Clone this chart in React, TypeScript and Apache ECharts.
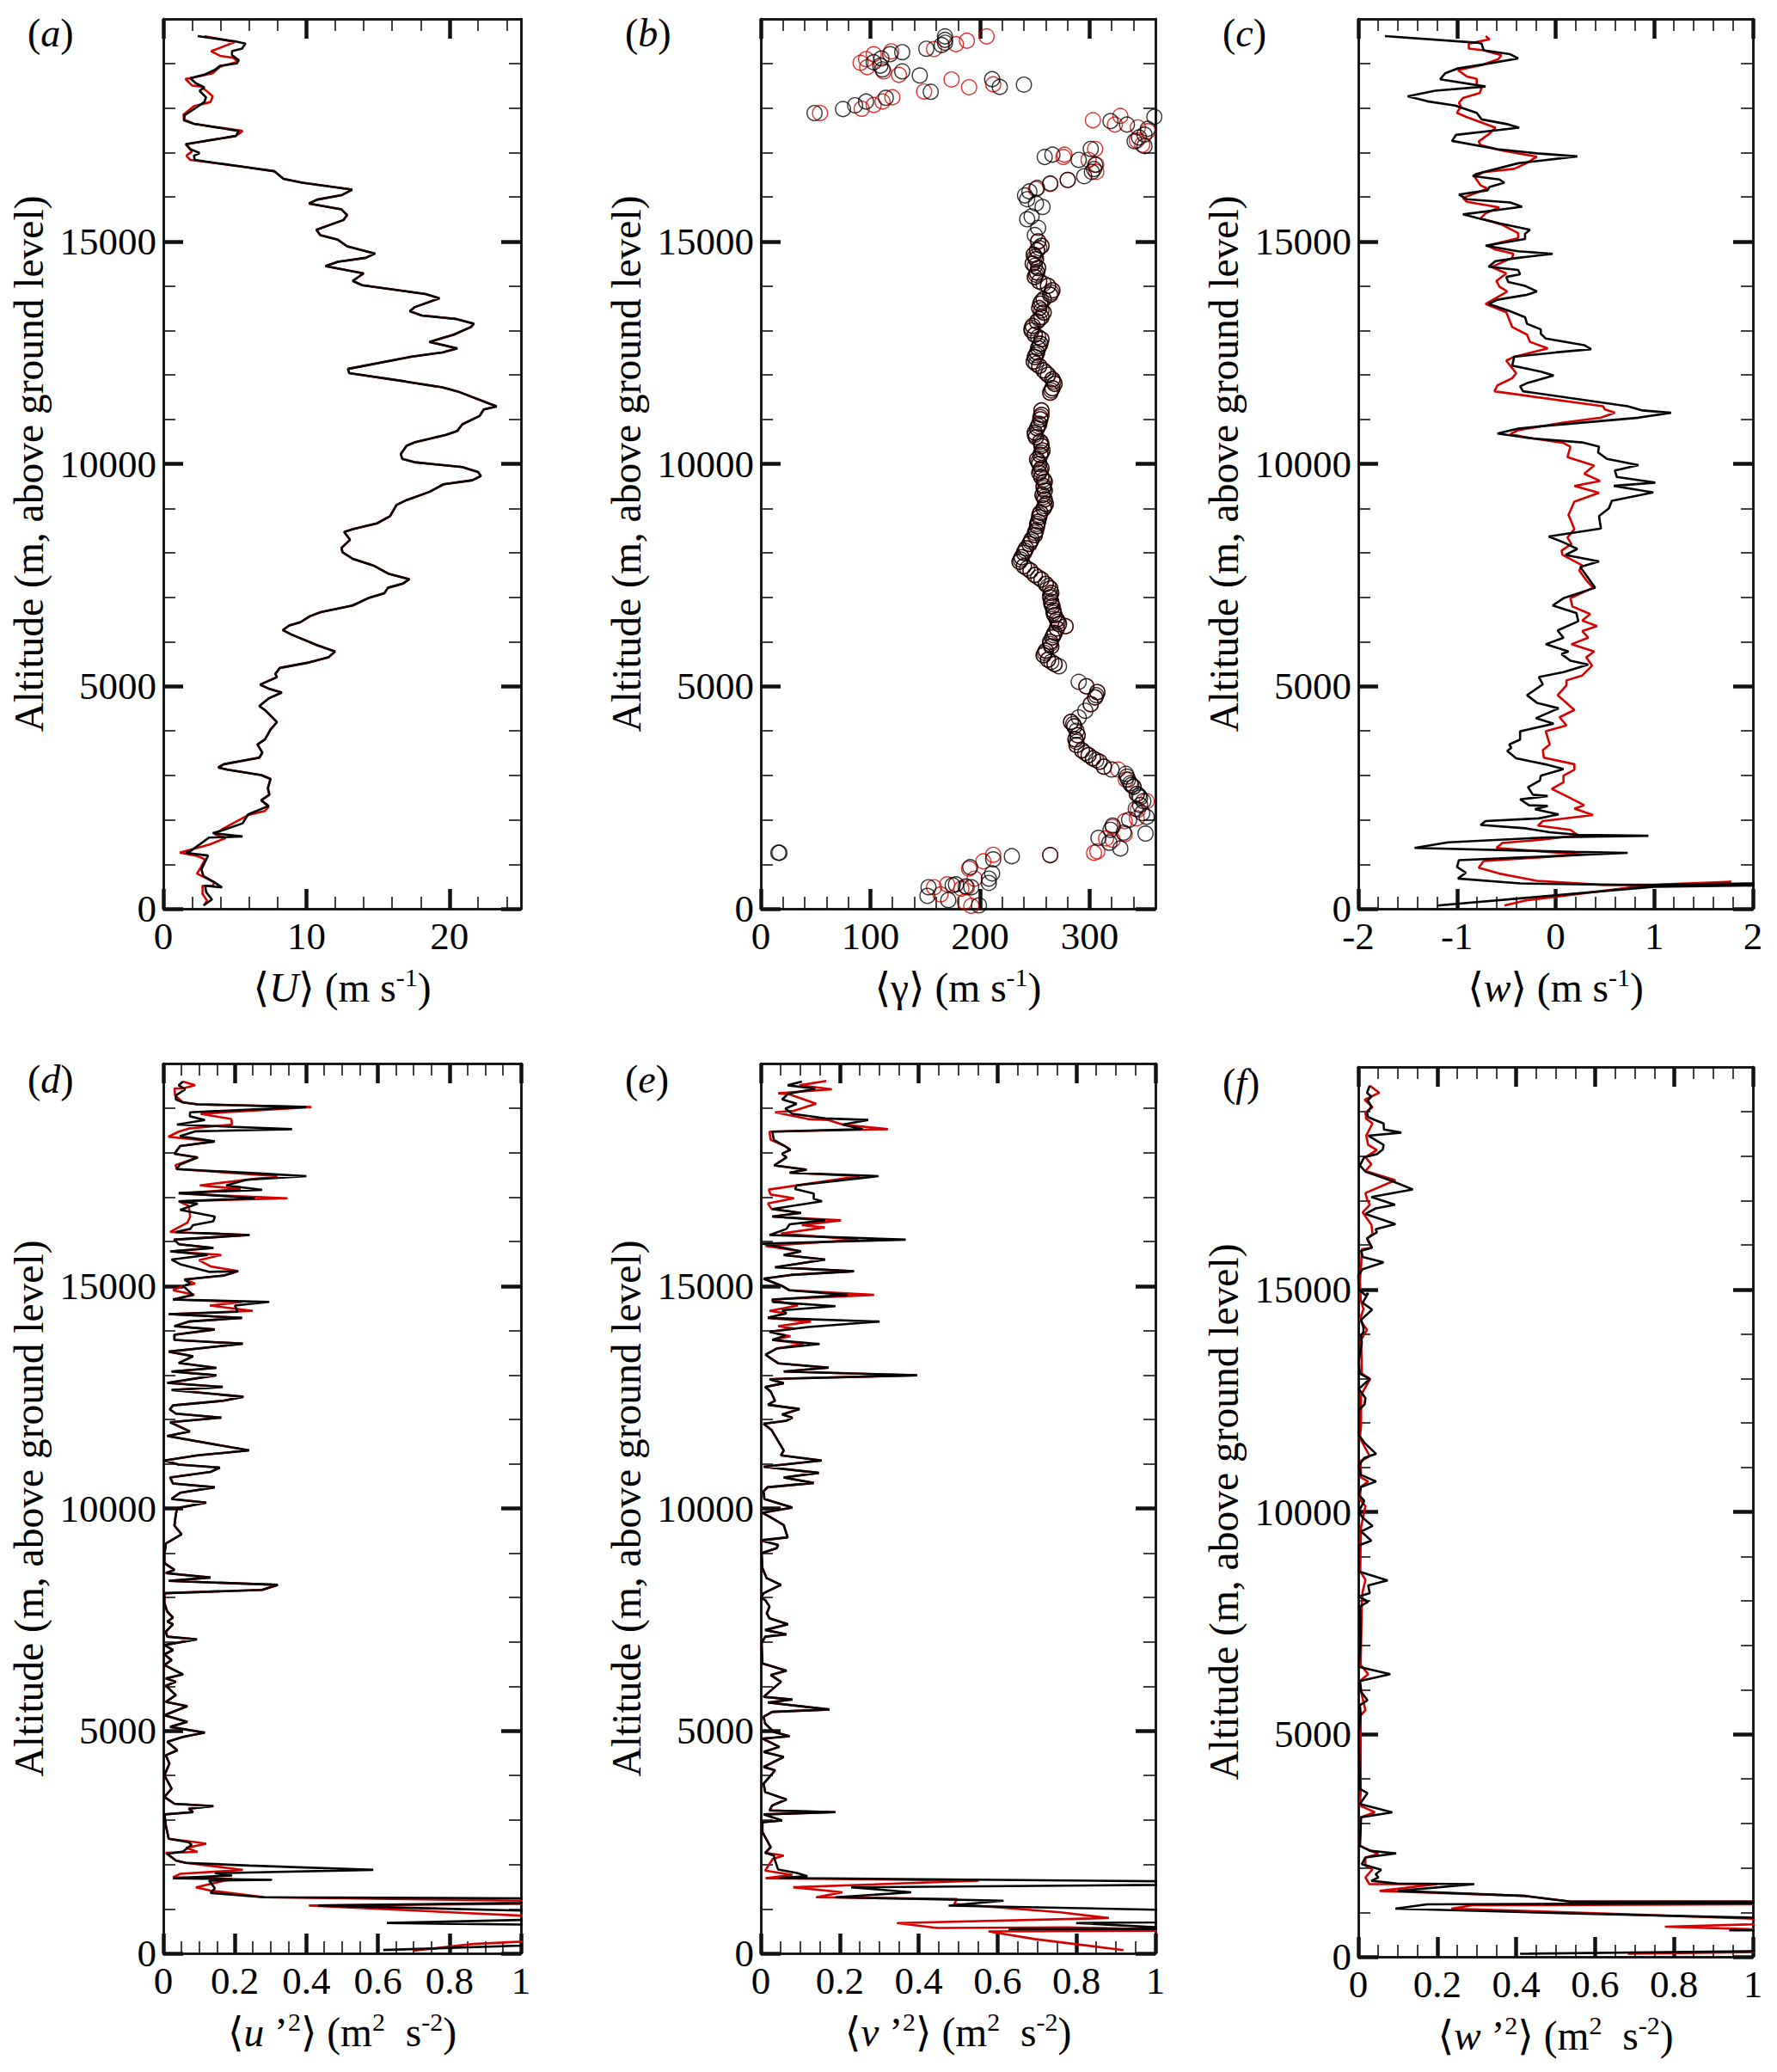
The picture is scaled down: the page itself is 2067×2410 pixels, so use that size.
import React, { useEffect, useRef } from "react";
import * as echarts from "echarts";

const FONT = "'Liberation Serif','DejaVu Serif',serif";
const RED = "#d40000";
const BLACK = "#000000";

// tick values
const altMajor = [0, 5000, 10000, 15000];
const altMinor = [1000, 2000, 3000, 4000, 6000, 7000, 8000, 9000, 11000, 12000, 13000, 14000, 16000, 17000, 18000, 19000];
const uMajor = [0, 10, 20];
const uMinor = [2, 4, 6, 8, 12, 14, 16, 18, 22, 24];
const gMajor = [0, 100, 200, 300];
const gMinor = [20, 40, 60, 80, 120, 140, 160, 180, 220, 240, 260, 280, 320, 340];
const wMajor = [-2, -1, 0, 1, 2];
const wMinor = [-1.8, -1.6, -1.4, -1.2, -0.8, -0.6, -0.4, -0.2, 0.2, 0.4, 0.6, 0.8, 1.2, 1.4, 1.6, 1.8];
const varMajor = [0, 0.2, 0.4, 0.6, 0.8, 1];
const varMinor = [0.05, 0.1, 0.15, 0.25, 0.3, 0.35, 0.45, 0.5, 0.55, 0.65, 0.7, 0.75, 0.85, 0.9, 0.95];

// (a) <U>
const aBlackTop = [[2.4,19614],[5.0,19496],[5.74,19444],[5.5,19333],[4.8,19274],[4.8,19185],[5.27,19074],[5.14,19000],[3.97,18948],[3.58,18850],[2.92,18755],[1.88,18667],[2.27,18555],[2.87,18460],[2.53,18385],[2.98,18237],[2.87,18133],[2.27,18000],[1.49,17837],[1.44,17718],[2.14,17644],[5.27,17481],[5.07,17370],[1.57,17185],[1.88,17074],[2.53,16985],[2.14,16926],[2.19,16830]];
const aRedTop = [[2.87,19614],[5.0,19480],[3.34,19274],[3.97,19170],[4.88,19126],[5.22,19037],[3.97,18926],[3.45,18778],[1.88,18667],[1.54,18652],[2.0,18504],[2.66,18481],[3.45,18259],[3.3,18133],[2.14,18037],[1.41,17852],[1.44,17740],[2.14,17644],[5.54,17481],[5.07,17370],[1.57,17185],[2.0,17022],[1.62,16926],[1.88,16830]];
const aMid = [[5.8,16667],[7.75,16578],[8.4,16407],[9.71,16318],[13.2,16163],[12.45,16037],[10.76,15940],[10.18,15852],[12.45,15718],[12.85,15593],[12.6,15481],[10.7,15259],[10.97,15141],[12.2,15037],[12.85,14889],[14.8,14726],[14.15,14630],[12.2,14541],[11.33,14444],[14.0,14281],[13.24,14111],[13.9,14015],[18.33,13815],[19.3,13719],[17.55,13519],[17.23,13430],[18.07,13333],[20.4,13259],[21.7,13148],[21.5,13074],[20.3,12904],[18.6,12741],[20.55,12593],[19.5,12504],[17.3,12407],[12.9,12133],[13.0,12037],[16.9,11852],[19.5,11719],[20.55,11630],[23.3,11289],[22.4,11222],[22.1,11074],[20.9,10889],[20.55,10741],[19.77,10652],[17.55,10481],[17.0,10407],[16.6,10222],[16.7,10111],[17.55,10037],[20.9,9926],[22.0,9815],[22.2,9726],[21.6,9630],[19.6,9541],[18.6,9370],[17.0,9185],[16.3,9074],[15.85,8825],[14.93,8662],[13.24,8530],[12.64,8470],[13.05,8293],[12.45,8108],[12.53,8013],[13.24,7865],[14.67,7717],[15.72,7533],[17.2,7407],[16.76,7311],[15.7,7215],[15.45,7090],[14.3,6979],[13.24,6816],[11.0,6668],[10.23,6572],[9.58,6440],[8.8,6366],[8.35,6262],[8.93,6166],[10.76,5923],[12.0,5782],[11.54,5650],[10.23,5539],[8.15,5413],[7.83,5280],[7.94,5206],[6.76,5037],[7.36,4948],[8.28,4860],[7.36,4726],[6.71,4556],[7.15,4453],[7.94,4195],[7.49,4025],[7.1,3803],[6.58,3693],[6.92,3508],[6.71,3397],[4.23,3249],[3.84,3176],[4.49,3124],[6.84,3006],[7.49,2917],[7.31,2710],[7.41,2563],[6.84,2437]];
const aBlackBottom = [[7.36,2311],[5.93,2120],[5.54,1920],[4.23,1772],[3.45,1699],[5.54,1625],[3.19,1600],[1.88,1292],[1.57,1255],[3.13,1196],[2.66,886],[2.8,738],[3.58,591],[4.1,480],[2.92,517],[3.0,369],[3.4,207],[2.8,74]];
const aRedBottom = [[7.36,2289],[7.1,2200],[5.93,2105],[4.23,1809],[3.58,1676],[4.36,1588],[3.19,1440],[1.15,1263],[2.4,1182],[2.92,1108],[2.61,923],[2.35,790],[3.58,591],[3.45,517],[2.74,517],[2.74,332],[3.05,185],[2.92,111]];

// (b) <gamma>
const bBlackTop = [[168,19607],[168,19529],[168,19465],[165,19413],[151,19329],[129,19252],[118,19207],[110,19110],[103,19026],[109,18949],[111,18865],[129,18820],[145,18729],[211,18645],[218,18471],[240,18523],[155,18361],[114,18226],[96,18142],[86,18058],[75,17974],[49,17884],[359,17800],[319,17703],[334,17626],[353,17529],[350,17400],[345,17336],[341,17252],[350,17142],[301,17078],[266,16949],[259,16897],[290,16832],[305,16723],[304,16626],[302,16562],[295,16465],[280,16381],[264,16303],[252,16200],[245,16123],[241,16032],[243,15948],[251,15852],[257,15774],[247,15561],[243,15497],[253,15303],[250,15142]];
const bRedTop = [[206,19607],[188,19510],[178,19432],[158,19323],[119,19271],[103,19207],[96,19097],[91,19013],[97,18916],[112,18820],[126,18742],[174,18639],[190,18465],[212,18529],[149,18368],[120,18239],[111,18142],[103,18065],[92,17981],[54,17884],[303,17723],[328,17820],[323,17626],[344,17561],[353,17477],[343,17271],[348,17174],[305,17078],[277,16949],[276,16897],[299,16832],[306,16723],[306,16562],[280,16381],[264,16290],[251,16174]];
const bBody = [[253,15000],[256,14900],[252,14800],[249,14700],[251,14600],[248,14500],[253,14400],[252,14300],[250,14200],[254,14100],[262,14000],[266,13900],[264,13800],[258,13700],[255,13600],[254,13500],[258,13400],[256,13300],[252,13200],[248,13100],[247,13000],[250,12900],[256,12800],[255,12700],[253,12600],[252,12500],[250,12400],[249,12300],[254,12200],[258,12100],[262,12000],[266,11900],[268,11800],[266,11700],[264,11600],[256,11200],[256,11100],[255,11000],[254,10900],[252,10800],[250,10700],[251,10600],[255,10500],[256,10400],[257,10300],[255,10200],[252,10100],[254,10000],[256,9900],[254,9800],[256,9700],[259,9600],[258,9500],[259,9400],[257,9300],[259,9200],[260,9100],[258,9000],[255,8900],[254,8800],[253,8700],[252,8600],[251,8500],[250,8400],[247,8300],[245,8200],[242,8100],[240,8000],[238,7900],[236,7800],[240,7700],[246,7600],[250,7500],[256,7400],[260,7300],[264,7200],[265,7100],[264,7000],[265,6900],[266,6800],[267,6700],[268,6600],[270,6500],[272,6400],[278,6350],[270,6300],[268,6200],[266,6100],[264,6000],[265,5900],[260,5800],[258,5700],[262,5600],[268,5500],[297,5000],[307,4870],[301,4600],[305,4750],[283,4200],[286,4100],[289,3900],[287,3807],[288,3678],[293,3560],[299,3452],[303,3380],[309,3303],[313,3194]];
const bBlackExtra = [[254,14850],[250,14650],[250,14450],[251,14250],[258,14050],[265,13850],[256,13650],[256,13450],[254,13250],[247,13050],[253,12850],[254,12650],[251,12450],[251,12250],[260,12050],[267,11850],[265,11650],[255,11050],[253,10850],[250,10650],[256,10450],[256,10250],[253,10050],[255,9850],[258,9650],[258,9450],[258,9250],[259,9050],[254,8850],[252,8650],[250,8450],[246,8250],[241,8050],[237,7850],[243,7650],[253,7450],[262,7250],[264,7050],[265,6850],[267,6650],[271,6450],[267,6150],[264,5950],[259,5750],[265,5550],[272,5450],[290,5100],[306,4800],[296,4450],[290,4300],[285,4150],[288,4000],[288,3750],[296,3500],[306,3340],[320,3130],[334,2970],[338,2780],[345,2540],[346,2330],[348,2150]];
const bBlackBottom = [[333,3032],[335,2903],[337,2820],[340,2742],[343,2581],[346,2500],[349,2419],[342,2245],[352,2065],[336,2000],[351,1690],[321,1871],[319,1774],[331,1710],[308,1594],[318,1484],[328,1355],[264,1206],[229,1181],[212,1110],[191,935],[211,794],[208,677],[208,581],[192,484],[178,548],[187,503],[175,529],[153,484],[152,290],[171,194],[199,77],[17,1258],[16,1258]];
const bRedBottom = [[326,3129],[333,2903],[340,2742],[343,2581],[352,2419],[344,2226],[343,2032],[332,1968],[321,1839],[332,1677],[315,1581],[321,1548],[307,1290],[304,1258],[264,1206],[212,1213],[203,1065],[190,903],[195,677],[170,548],[158,484],[164,323],[183,452],[188,484],[186,161],[192,65]];

// (c) <w>
const cBlack = [[-1.73,19614],[-0.8,19467],[-0.75,19444],[-0.73,19296],[-0.46,19207],[-0.38,19111],[-0.73,18978],[-0.99,18889],[-1.12,18778],[-1.17,18644],[-0.71,18481],[-1.22,18385],[-1.5,18259],[-1.3,18148],[-1.02,18052],[-0.8,17889],[-0.75,17741],[-0.48,17630],[-0.37,17556],[-1.01,17393],[-1.05,17259],[-0.59,17074],[-0.19,16978],[0.22,16911],[-0.38,16756],[-0.8,16518],[-0.84,16467],[-0.57,16392],[-0.52,16319],[-0.67,16222],[-0.69,16148],[-0.98,16052],[-0.9,15948],[-0.46,15874],[-0.34,15778],[-0.94,15607],[-0.78,15519],[-0.57,15407],[-0.26,15259],[-0.31,15170],[-0.31,15052],[-0.71,14904],[-0.38,14778],[-0.03,14719],[-0.38,14630],[-0.61,14556],[-0.68,14430],[-0.38,14356],[-0.36,14259],[-0.5,14200],[-0.48,14089],[-0.31,14000],[-0.19,13874],[-0.29,13800],[-0.59,13689],[-0.68,13593],[-0.46,13430],[-0.31,13296],[-0.29,13148],[-0.15,13022],[-0.15,12926],[-0.1,12815],[0.29,12667],[0.36,12578],[0,12504],[-0.42,12407],[-0.44,12207],[-0.15,12074],[-0.02,11985],[-0.29,11815],[-0.36,11741],[-0.33,11630],[0.38,11407],[0.73,11296],[0.88,11200],[1.17,11148],[0.84,11037],[-0.11,10852],[-0.38,10793],[-0.59,10681],[-0.23,10570],[0.27,10481],[0.44,10385],[0.43,10259],[0.52,10111],[0.84,9970],[0.6,9852],[0.62,9704],[1.01,9578],[0.59,9504],[0.99,9356],[0.57,9170],[0.54,9000],[0.44,8825],[0.45,8677],[0.46,8545],[-0.07,8367],[0.08,8234],[0.22,8087],[0.1,7953],[0.44,7806],[0.25,7680],[0.31,7496],[0.4,7215],[0.08,6979],[-0.03,6816],[0.21,6647],[0.23,6462],[0.02,6255],[0.08,6092],[-0.1,5945],[0.13,5782],[0.06,5723],[0.15,5576],[0.33,5487],[0.08,5317],[-0.17,5206],[-0.13,5044],[-0.29,4800],[-0.19,4630],[0.03,4505],[-0.2,4283],[-0.02,4158],[-0.36,3988],[-0.36,3803],[-0.47,3693],[-0.45,3619],[-0.49,3545],[-0.4,3382],[-0.11,3249],[0.08,3139],[-0.15,2991],[-0.16,2880],[-0.28,2732],[-0.23,2563],[-0.08,2533],[-0.36,2459],[-0.27,2326],[-0.08,2311],[-0.21,2238],[0.03,2120],[-0.17,2031],[-0.71,1972],[-0.76,1883],[-0.31,1809],[-0.06,1721],[0.23,1662],[0.94,1640],[-0.08,1603],[-1.09,1492],[-1.43,1366],[0.19,1278],[0.73,1255],[-0.98,1093],[-1.0,938],[-0.91,812],[-0.99,679],[-0.36,569],[0.84,532],[2.0,569],[2.3,530],[1.0,495],[-1.2,74]];
const cRed = [[-0.71,19614],[-0.67,19541],[-0.8,19481],[-0.88,19444],[-0.88,19333],[-0.73,19296],[-0.55,19185],[-0.58,19096],[-0.75,18963],[-0.99,18852],[-0.9,18704],[-0.8,18652],[-0.8,18533],[-0.75,18444],[-0.77,18333],[-0.94,18222],[-0.98,18111],[-0.96,18037],[-1.0,17889],[-0.9,17793],[-0.61,17556],[-0.67,17422],[-0.78,17244],[-0.76,17163],[-0.57,17052],[-0.19,16904],[-0.31,16741],[-0.42,16630],[-0.73,16556],[-0.82,16444],[-0.76,16259],[-0.69,16185],[-0.94,15978],[-0.9,15889],[-0.57,15763],[-0.71,15630],[-0.76,15519],[-0.54,15370],[-0.38,15185],[-0.38,15074],[-0.69,14904],[-0.61,14815],[-0.43,14726],[-0.44,14630],[-0.65,14422],[-0.5,14281],[-0.6,14111],[-0.57,13985],[-0.49,13874],[-0.71,13593],[-0.5,13407],[-0.44,13074],[-0.29,12904],[-0.26,12741],[-0.08,12593],[-0.42,12407],[-0.5,12319],[-0.4,12037],[-0.44,11926],[-0.59,11763],[-0.62,11630],[0.48,11296],[0.5,11222],[0.6,11148],[0.46,11037],[0.08,10926],[-0.38,10756],[-0.46,10667],[-0.27,10585],[0.08,10467],[0.15,10385],[0.12,10148],[0.39,9963],[0.29,9778],[0.45,9615],[0.19,9504],[0.44,9348],[0.19,9148],[0.13,8852],[0.15,8751],[0.19,8530],[0.12,8345],[0.16,8197],[0.06,8050],[0.07,7953],[0.27,7717],[0.24,7606],[0.31,7385],[0.38,7215],[0.15,6979],[0.17,6794],[0.35,6624],[0.27,6476],[0.42,6351],[0.27,6240],[0.33,6092],[0.16,5945],[0.39,5782],[0.31,5650],[0.37,5465],[0.27,5243],[0.11,5133],[0.11,5022],[0.02,4800],[0.19,4468],[0.04,4305],[0.11,4121],[-0.1,3988],[-0.06,3693],[-0.13,3567],[-0.12,3397],[0.19,3249],[0.19,3124],[0.08,2991],[0.08,2843],[-0.04,2695],[0.13,2511],[0.29,2326],[0.19,2252],[0.38,2105],[-0.13,1972],[-0.18,1868],[0.15,1772],[0.23,1647],[-0.15,1551],[-0.54,1477],[-0.6,1366],[0.27,1218],[-0.73,1071],[-0.78,923],[-0.57,790],[-0.19,628],[0.46,539],[0.99,539],[1.78,606],[0.77,480],[-0.31,185],[-0.52,74]];

// (d) <u'^2>
const dBlackTop = [[.055,19593],[.043,19510],[.061,19421],[.035,19283],[.035,19193],[.055,19124],[.096,19083],[.40,19021],[.075,18904],[.074,18814],[.116,18731],[.038,18628],[.36,18524],[.091,18476],[.046,18366],[.144,18249],[.047,18145],[.031,17972],[.096,17890],[.047,17731],[.037,17628],[.28,17524],[.40,17469],[.232,17386],[.176,17262],[.276,17159],[.043,17090],[.256,16972],[.043,16903],[.096,16848],[.047,16710],[.144,16559],[.14,16455],[.083,16366],[.075,16283],[.035,16214],[.24,16145],[.03,16041],[.044,15938],[.14,15855],[.019,15779],[.124,15697],[.023,15593],[.047,15490],[.128,15317],[.208,15331],[.168,15234],[.059,15145],[.075,15055],[.055,15000],[.083,14800],[.027,14697],[.296,14641],[.2,14559],[.208,14421],[.015,14366]];
const dRedTop = [[.055,19593],[.089,19510],[.055,19441],[.031,19441],[.033,19283],[.055,19124],[.096,19083],[.414,19021],[.104,18869],[.19,18752],[.192,18628],[.071,18538],[.043,18469],[.014,18352],[.144,18249],[.047,18145],[.031,17972],[.096,17890],[.034,17717],[.037,17628],[.319,17469],[.102,17262],[.216,17179],[.043,17076],[.347,16972],[.043,16903],[.071,16800],[.075,16559],[.067,16421],[.019,16214],[.242,16145],[.03,16041],[.044,15938],[.14,15855],[.023,15779],[.162,15697],[.1,15579],[.132,15441],[.21,15331],[.168,15234],[.059,15145],[.089,15055],[.055,15000],[.027,14903],[.087,14800],[.027,14697],[.22,14641],[.13,14559],[.25,14441],[.015,14366]];
const dMid = [[.22,14283],[.071,14200],[.031,14097],[.144,14021],[.031,13903],[.031,13786],[.222,13703],[.015,13524],[.083,13421],[.043,13269],[.148,13159],[.023,13076],[.148,12993],[.011,12821],[.166,12731],[.023,12662],[.224,12510],[.168,12421],[.027,12317],[.018,12228],[.035,12131],[.162,12041],[.019,11938],[.074,11731],[.011,11627],[.24,11303],[.096,11193],[.003,11076],[.043,10986],[.158,10917],[.132,10821],[.019,10697],[.027,10559],[.144,10476],[.047,10352],[.023,10214],[.12,10131],[.039,10007],[.035,9869],[.031,9614],[.051,9420],[.007,9211],[.003,8957],[.003,8770],[.031,8620],[.007,8545],[.132,8447],[.015,8372],[.32,8282],[.276,8169],[.003,8094],[.003,7869],[.011,7681],[.027,7546],[.011,7456],[.027,7396],[.007,7230],[.011,7118],[.094,7058],[.003,6930],[.027,6817],[.003,6720],[.023,6592],[.003,6479],[.055,6269],[.007,6179],[.035,6104],[.007,6014],[.035,5804],[.007,5653],[.067,5556],[.003,5353],[.067,5203],[.019,5090],[.116,4962],[.055,4865],[.011,4752],[.039,4564],[.007,4452],[.017,4264],[.003,4001],[.023,3701],[.003,3513],[.031,3363],[.14,3310],[.071,3250],[.083,3175],[.003,3123],[.007,2875],[.015,2574]];
const dBlackBottom = [[.071,2499],[.079,2439],[.055,2289],[.011,2236],[.035,2086],[.063,2034],[.24,1974],[.587,1876],[.144,1801],[.192,1748],[.027,1688],[.304,1651],[.128,1636],[.144,1463],[.132,1358],[.28,1260],[1.0,1238],[1.2,1180],[1.0,1134],[.433,1074],[1.0,961],[1.3,800],[1.0,751],[.625,683],[1.0,646],[1.3,400],[1.0,173],[.615,75]];
const dRedBottom = [[.092,2499],[.12,2462],[.063,2370],[.096,2281],[.007,2259],[.035,2086],[.063,2034],[.222,1876],[.047,1786],[.027,1711],[.192,1673],[.091,1485],[.132,1410],[.284,1260],[1.0,1185],[1.3,1130],[.407,1074],[1.0,848],[1.3,600],[1.0,263],[.866,210],[.697,60]];

// (e) <v'^2>
const eBlackTop = [[.104,19593],[.068,19510],[.138,19435],[.069,19317],[.054,19193],[.091,19097],[.062,18986],[.08,18869],[.12,18821],[.163,18766],[.272,18731],[.207,18628],[.258,18524],[.029,18469],[.033,18283],[.058,18159],[.075,18062],[.054,17972],[.065,17890],[.034,17710],[.116,17614],[.073,17545],[.298,17469],[.091,17262],[.087,17179],[.134,17076],[.134,16959],[.155,16903],[.029,16731],[.102,16641],[.029,16559],[.163,16476],[.073,16386],[.065,16283],[.022,16145],[.367,16041],[.004,15952],[.033,15904],[.102,15779],[.058,15697],[.163,15593],[.036,15421],[.236,15331],[.076,15248],[.007,15165],[.054,15000],[.073,14903],[.221,14800],[.029,14697],[.031,14641],[.189,14545],[.054,14455],[.065,14386],[.018,14283],[.301,14200],[.12,14076],[.022,13972],[.062,13883],[.029,13786],[.149,13697]];
const eRedTop = [[.166,19607],[.098,19510],[.18,19421],[.044,19331],[.073,19304],[.14,19097],[.084,18938],[.036,18903],[.12,18752],[.171,18731],[.207,18628],[.322,18524],[.022,18469],[.025,18283],[.058,18159],[.075,18062],[.054,17972],[.065,17890],[.034,17710],[.116,17614],[.073,17545],[.25,17469],[.02,17166],[.025,17055],[.084,16972],[.018,16855],[.027,16731],[.102,16641],[.029,16559],[.203,16476],[.104,16366],[.162,16317],[.051,16179],[.247,16041],[.012,15900],[.102,15779],[.058,15697],[.163,15593],[.036,15421],[.236,15331],[.076,15248],[.007,15165],[.054,15000],[.073,14903],[.287,14800],[.029,14697],[.04,14662],[.094,14559],[.022,14441],[.065,14386],[.018,14283],[.127,14200],[.044,14097],[.084,14041],[.022,13972],[.075,13869],[.029,13786],[.109,13697]];
const eMid = [[.04,13593],[.012,13455],[.044,13262],[.172,13165],[.058,13076],[.396,12993],[.062,12917],[.022,12903],[.058,12814],[.011,12731],[.025,12628],[.036,12421],[.018,12331],[.098,12234],[.054,12110],[.08,12041],[.065,11972],[.007,11903],[.027,11765],[.058,11303],[.051,11193],[.154,11076],[.007,10938],[.147,10800],[.058,10697],[.134,10572],[.017,10476],[.007,10386],[.009,10214],[.08,10021],[.004,9903],[.025,9800],[.058,9627],[.068,9351],[0,9282],[.044,9179],[.04,9108],[.002,8995],[.004,8657],[.015,8432],[.051,8282],[.007,8094],[0,7981],[.011,7944],[.022,7794],[.015,7644],[.022,7531],[.069,7396],[.011,7268],[.065,7170],[.011,7118],[.002,6968],[.004,6517],[.065,6352],[.025,6254],[.051,6104],[.007,5766],[.08,5706],[.018,5638],[.174,5481],[.029,5428],[.007,5315],[.011,5165],[.033,4977],[.073,4880],[.004,4827],[.047,4640],[.007,4527],[.058,4414],[.007,4189],[.036,4114],[.018,3926],[.007,3813],[.011,3626],[.065,3460],[.029,3325],[.022,3213],[.189,3175],[.007,3123],[.054,2987],[.004,2950],[.004,2725],[.018,2499],[.025,2386],[.011,2259]];
const eBlackBottom = [[.033,2199],[.036,2086],[.044,1883],[.091,1808],[.118,1733],[.047,1696],[1.0,1620],[1.3,1560],[.229,1485],[.381,1373],[.189,1260],[.615,1185],[.476,1072],[1.0,982],[1.3,850],[1.0,697],[.799,682],[1.0,587],[1.3,570],[1.0,550],[.628,547],[1.0,545],[1.3,540]];
const eRedBottom = [[.058,2199],[.03,2120],[.011,1861],[.08,1763],[.012,1688],[.552,1636],[.082,1485],[.207,1373],[.14,1260],[.497,1222],[.49,1110],[.759,922],[.882,794],[.345,682],[.447,569],[.78,584],[1.0,540],[1.2,530],[1.0,510],[.577,494],[.694,321],[.919,74]];

// (f) <w'^2>
const fBlack = [[.029,19580],[.022,19421],[.033,19331],[.024,19249],[.033,19111],[.022,18973],[.025,18869],[.064,18731],[.065,18593],[.109,18524],[.025,18455],[.064,18248],[.062,18145],[.047,18041],[.015,17973],[.004,17786],[.018,17648],[.08,17455],[.138,17248],[.033,17076],[.093,16903],[.044,16821],[.018,16697],[.094,16469],[.044,16352],[.047,16283],[.022,16145],[.035,15938],[.007,15869],[.011,15731],[.064,15607],[.011,15455],[0,15317],[.001,15000],[.018,14869],[.025,14917],[.011,14697],[.035,14545],[.007,14317],[.013,14145],[.013,14041],[.007,13972],[.009,13800],[.001,13386],[.004,13110],[.029,12986],[.001,12765],[.018,12558],[.016,12420],[.001,12283],[.001,11731],[.015,11559],[.045,11303],[.015,11214],[.001,11041],[.006,10834],[.045,10683],[.007,10559],[.001,10386],[.015,10248],[.001,10007],[.011,9869],[.036,9683],[.007,9559],[.033,9352],[.001,9248],[.001,9000],[.001,8662],[.074,8459],[.025,8346],[.029,8173],[.001,8098],[.025,7985],[.004,7872],[.006,7083],[.001,6519],[.081,6353],[.004,6196],[.007,5955],[.023,5767],[.004,5654],[.006,5466],[.001,5000],[.004,4000],[.004,3775],[.023,3677],[.004,3436],[.086,3248],[.007,3135],[.004,2496],[.029,2384],[.096,2323],[.018,2233],[.009,2083],[.058,1955],[.044,1857],[.051,1782],[.033,1707],[.098,1647],[.294,1632],[.1,1481],[.421,1369],[.537,1241],[1,1241],[1.3,1150],[1,1203],[.174,1180],[.094,1083],[.53,977],[1,880],[1.3,600],[1,594],[.94,594],[1.3,594],[1.3,150],[1,128],[.41,68]];
const fRed = [[.029,19580],[.053,19421],[.016,19262],[.036,19097],[.018,18973],[.02,18835],[.036,18731],[.02,18455],[.025,18248],[.047,18131],[.018,17973],[.033,17814],[.018,17662],[.094,17455],[.018,17166],[.022,17028],[.029,16903],[.011,16731],[.033,16455],[.036,16248],[.022,16145],[.033,15938],[.009,15903],[.007,15524],[.004,15179],[.006,14766],[.013,14559],[.004,14317],[.022,14090],[.007,13869],[.009,13110],[.03,12986],[.007,12628],[.007,12352],[.007,11938],[.004,11662],[.029,11248],[.006,11145],[.007,10772],[.025,10683],[.006,10559],[.004,10283],[.018,10131],[.007,9662],[.006,9317],[.005,8662],[.018,8474],[.011,8211],[.009,7985],[.006,6557],[.025,6353],[.004,6196],[.009,5880],[.018,5542],[.006,5429],[.006,3699],[.004,3399],[.042,3248],[.006,3135],[.004,2496],[.051,2308],[.018,2233],[.018,2045],[.036,1970],[.018,1782],[.028,1632],[.2,1632],[.054,1481],[.421,1369],[.537,1241],[1,1241],[1.3,1150],[1,1180],[.29,1158],[.236,1083],[.683,955],[1,857],[1.3,700],[1,729],[.777,677],[1,617],[1.3,300],[1,105],[.683,68]];

const panels = [
  { tag: "a", left: 190, top: 22, width: 416, xMin: 0, xMax: 25, major: uMajor, minor: uMinor, name: "{a|⟨}{i|U}{a|⟩ (m s}{s|-1}{a|)}", red: [...aRedTop, ...aMid, ...aRedBottom], black: [...aBlackTop, ...aMid, ...aBlackBottom], scatter: false },
  { tag: "b", left: 885, top: 22, width: 459, xMin: 0, xMax: 360, major: gMajor, minor: gMinor, name: "{a|⟨γ⟩ (m s}{s|-1}{a|)}", red: [...bRedTop, ...bBody, ...bRedBottom], black: [...bBlackTop, ...bBody, ...bBlackExtra, ...bBlackBottom], scatter: true },
  { tag: "c", left: 1580, top: 22, width: 459, xMin: -2, xMax: 2, major: wMajor, minor: wMinor, name: "{a|⟨}{i|w}{a|⟩ (m s}{s|-1}{a|)}", red: cRed, black: cBlack, scatter: false },
  { tag: "d", left: 190, top: 1237, width: 416, xMin: 0, xMax: 1, major: varMajor, minor: varMinor, name: "{a|⟨}{i|u}{a| ’}{s|2}{a|⟩ (m}{s|2}{a|  s}{s|-2}{a|)}", red: [...dRedTop, ...dMid, ...dRedBottom], black: [...dBlackTop, ...dMid, ...dBlackBottom], scatter: false },
  { tag: "e", left: 885, top: 1237, width: 459, xMin: 0, xMax: 1, major: varMajor, minor: varMinor, name: "{a|⟨}{i|v}{a| ’}{s|2}{a|⟩ (m}{s|2}{a|  s}{s|-2}{a|)}", red: [...eRedTop, ...eMid, ...eRedBottom], black: [...eBlackTop, ...eMid, ...eBlackBottom], scatter: false },
  { tag: "f", left: 1580, top: 1241, width: 459, xMin: 0, xMax: 1, major: varMajor, minor: varMinor, name: "{a|⟨}{i|w}{a| ’}{s|2}{a|⟩ (m}{s|2}{a|  s}{s|-2}{a|)}", red: fRed, black: fBlack, scatter: false },
];

const HEIGHT = 1035;
const TICK_FONT = 45;
const NAME_FONT = 47.5;

const nameRich = {
  a: { fontFamily: FONT, fontSize: NAME_FONT, color: "#000", lineHeight: 56 },
  i: { fontFamily: FONT, fontSize: NAME_FONT, fontStyle: "italic", color: "#000", lineHeight: 56 },
  s: { fontFamily: FONT, fontSize: 30, color: "#000", lineHeight: 56, verticalAlign: "top" },
};

function makeAxis(gridIndex: number, position: string, min: number, max: number, values: number[], isMajor: boolean, extra: object) {
  return {
    type: "value",
    gridIndex,
    position,
    min,
    max,
    scale: true,
    splitLine: { show: false },
    axisLine: { show: true, onZero: false, lineStyle: { color: "#111", width: 2.5 } },
    axisTick: {
      show: true,
      inside: true,
      customValues: values,
      length: isMajor ? 23 : 14,
      lineStyle: { color: "#111", width: isMajor ? 4.5 : 1.6 },
    },
    axisLabel: { show: false },
    ...extra,
  };
}

export default function App() {
  const ref = useRef<HTMLDivElement>(null);
  useEffect(() => {
    document.body.style.margin = "0";
    document.body.style.background = "#fff";
    const chart = echarts.init(ref.current!, null, { renderer: "svg" });
    const xAxis: any[] = [];
    const yAxis: any[] = [];
    const grid: any[] = [];
    const series: any[] = [];
    const graphic: any[] = [];
    panels.forEach((p, i) => {
      grid.push({ left: p.left, top: p.top, width: p.width, height: HEIGHT, containLabel: false });
      const base = xAxis.length;
      const yBase = yAxis.length;
      xAxis.push(
        makeAxis(i, "bottom", p.xMin, p.xMax, p.major, true, {
          axisLabel: {
            show: true,
            customValues: p.major,
            formatter: (v: number) => String(v),
            fontFamily: FONT,
            fontSize: TICK_FONT,
            color: "#000",
            margin: 9,
            hideOverlap: false,
          },
          name: p.name,
          nameLocation: "middle",
          nameGap: 64,
          nameTextStyle: { fontFamily: FONT, fontSize: NAME_FONT, color: "#000", rich: nameRich },
        }),
        makeAxis(i, "bottom", p.xMin, p.xMax, p.minor, false, {}),
        makeAxis(i, "top", p.xMin, p.xMax, p.major, true, {}),
        makeAxis(i, "top", p.xMin, p.xMax, p.minor, false, {})
      );
      yAxis.push(
        makeAxis(i, "left", 0, 20000, altMajor, true, {
          axisLabel: {
            show: true,
            customValues: altMajor,
            formatter: (v: number) => String(v),
            fontFamily: FONT,
            fontSize: TICK_FONT,
            color: "#000",
            margin: 8,
            hideOverlap: false,
          },
          name: "Altitude (m, above ground level)",
          nameLocation: "middle",
          nameGap: 132,
          nameTextStyle: { fontFamily: FONT, fontSize: NAME_FONT, color: "#000" },
        }),
        makeAxis(i, "left", 0, 20000, altMinor, false, {}),
        makeAxis(i, "right", 0, 20000, altMajor, true, {}),
        makeAxis(i, "right", 0, 20000, altMinor, false, {})
      );
      const common = { xAxisIndex: base, yAxisIndex: yBase, silent: true };
      if (p.scatter) {
        const mk = (data: number[][], color: string, name: string) => ({
          ...common,
          type: "scatter",
          name,
          data,
          symbol: "circle",
          symbolSize: 17.5,
          clip: false,
          itemStyle: { color: "rgba(0,0,0,0)", borderColor: color, borderWidth: 1.4 },
        });
        series.push(mk(p.red, RED, "red"), mk(p.black, BLACK, "black"));
      } else {
        const mk = (data: number[][], color: string, name: string) => ({
          ...common,
          type: "line",
          name,
          data,
          showSymbol: false,
          symbol: "none",
          smooth: false,
          clip: true,
          lineStyle: { color, width: 2.6 },
        });
        series.push(mk(p.red, RED, "red"), mk(p.black, BLACK, "black"));
      }
      graphic.push({
        type: "text",
        left: p.left - 158,
        top: p.top - 7 + (i >= 3 ? 2 : 0),
        style: {
          text: `{n|(}{t|${p.tag}}{n|)}`,
          rich: {
            n: { fontFamily: FONT, fontSize: 46, fill: "#000", lineHeight: 46 },
            t: { fontFamily: FONT, fontSize: 46, fontStyle: "italic", fill: "#000", lineHeight: 46 },
          },
        },
      });
    });
    chart.setOption({ animation: false, backgroundColor: "#fff", grid, xAxis, yAxis, series, graphic });
    return () => chart.dispose();
  }, []);
  return <div ref={ref} style={{ position: "absolute", left: 0, top: 0, width: 2067, height: 2410 }} />;
}
